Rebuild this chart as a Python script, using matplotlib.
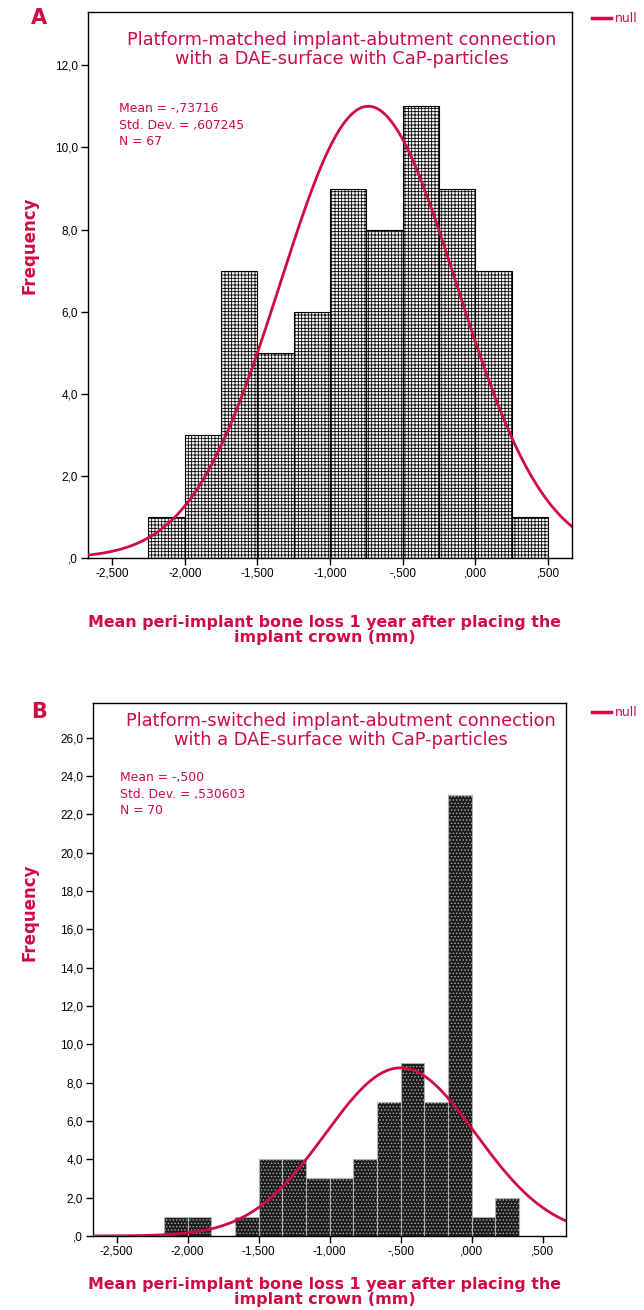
import numpy as np
import matplotlib
matplotlib.use("Agg")
import matplotlib.pyplot as plt

# Panel A: platform-matched, bin width 0.25
edges_a = [-2.25, -2.0, -1.75, -1.5, -1.25, -1.0, -0.75, -0.5, -0.25, 0.0, 0.25]
counts_a = [1, 3, 7, 5, 6, 9, 8, 11, 9, 7, 1]
width_a = 0.25
mean_a, sd_a, n_a = -0.73716, 0.607245, 67
yticks_a = [0, 2, 4, 6, 8, 10, 12]
ylabels_a = [",0", "2,0", "4,0", "6,0", "8,0", "10,0", "12,0"]

# Panel B: platform-switched, bin width 1/6
edges_b = [-2.1667, -2.0, -1.8333, -1.6667, -1.5, -1.3333, -1.1667, -1.0,
           -0.8333, -0.6667, -0.5, -0.3333, -0.1667, 0.0, 0.1667]
counts_b = [1, 1, 0, 1, 4, 4, 3, 3, 4, 7, 9, 7, 23, 1, 2]
width_b = 1 / 6
mean_b, sd_b, n_b = -0.500, 0.530603, 70
yticks_b = [0, 2, 4, 6, 8, 10, 12, 14, 16, 18, 20, 22, 24, 26]
ylabels_b = [",0"] + ["%d,0" % v for v in yticks_b[1:]]

xticks = [-2.5, -2.0, -1.5, -1.0, -0.5, 0.0, 0.5]
xlabels = ["-2,500", "-2,000", "-1,500", "-1,000", "-,500", ",000", ",500"]

RED = "#CF0A45"
plt.rcParams["font.family"] = ["DejaVu Sans"]
plt.rcParams["hatch.linewidth"] = 0.6

fig = plt.figure(figsize=(6.44, 13.10), dpi=100)


def fmt(v, digits):
    s = ("%." + str(digits) + "f") % abs(v)
    s = s.lstrip("0").replace(".", ",")
    return ("-" if v < 0 else "") + s


def panel(rect, edges, counts, width, mean, sd, n, digits, yticks, ylabels, ymax,
          face, edge, hatch, title, title_y, stats_xy):
    ax = fig.add_axes(rect)
    for e, c in zip(edges, counts):
        if c > 0:
            ax.bar(e, c, width=width, align="edge", facecolor=face,
                   edgecolor=edge, hatch=hatch, linewidth=0.8, zorder=2)
    # fitted normal curve scaled to counts
    xs = np.linspace(-2.7, 0.7, 400)
    ys = n * width / (sd * np.sqrt(2 * np.pi)) * np.exp(-0.5 * ((xs - mean) / sd) ** 2)
    ax.plot(xs, ys, color=RED, lw=2.0, zorder=3)
    ax.set_xlim(-2.666, 0.665)
    ax.set_ylim(0, ymax)
    ax.set_xticks(xticks)
    ax.set_xticklabels(xlabels, fontsize=8.5, family="Liberation Sans")
    ax.set_yticks(yticks)
    ax.set_yticklabels(ylabels, fontsize=8.5, family="Liberation Sans")
    ax.tick_params(axis="both", direction="out", length=5, width=1, pad=2)
    for s in ax.spines.values():
        s.set_linewidth(1.0)
    ax.text(0.525, title_y, title, transform=ax.transAxes, ha="center", va="top",
            color=RED, fontsize=12.8, linespacing=1.1)
    ax.text(stats_xy[0], stats_xy[1],
            "Mean = %s\nStd. Dev. = %s\nN = %d" % (fmt(mean, digits), fmt(sd, 6), n),
            transform=ax.transAxes, ha="left", va="top", color=RED,
            fontsize=8.9, linespacing=1.35)
    return ax


panel([88 / 644, 1 - 558 / 1310, 484 / 644, 546 / 1310], edges_a, counts_a,
      width_a, mean_a, sd_a, n_a, 5, yticks_a, ylabels_a, 13.3,
      "white", "black", "+++++",
      "Platform-matched implant-abutment connection\nwith a DAE-surface with CaP-particles",
      0.966, (0.065, 0.835))

panel([93 / 644, 1 - 1236 / 1310, 473 / 644, 533 / 1310], edges_b, counts_b,
      width_b, mean_b, sd_b, n_b, 3, yticks_b, ylabels_b, 27.8,
      "#1c1c1c", "#b0b0b0", ".....",
      "Platform-switched implant-abutment connection\nwith a DAE-surface with CaP-particles",
      0.983, (0.057, 0.872))

for letter, ly, fy, xy in [("A", 18, 245, 630), ("B", 712, 912, 1292)]:
    fig.text(39 / 644, 1 - ly / 1310, letter, color=RED, fontsize=15, fontweight="bold",
             ha="center", va="center")
    fig.text(30 / 644, 1 - fy / 1310, "Frequency", color=RED, fontsize=12, fontweight="bold",
             rotation=90, ha="center", va="center")
    fig.text(325 / 644, 1 - xy / 1310,
             "Mean peri-implant bone loss 1 year after placing the\nimplant crown (mm)",
             color=RED, fontsize=11.4, fontweight="bold", ha="center", va="center",
             linespacing=1.0)
    yy = 1 - ly / 1310
    fig.add_artist(plt.Line2D([592 / 644, 611 / 644], [yy, yy], color=RED, lw=2.5))
    fig.text(615 / 644, yy, "null", color=RED, fontsize=9, ha="left", va="center")

fig.savefig("out.png", dpi=100)
